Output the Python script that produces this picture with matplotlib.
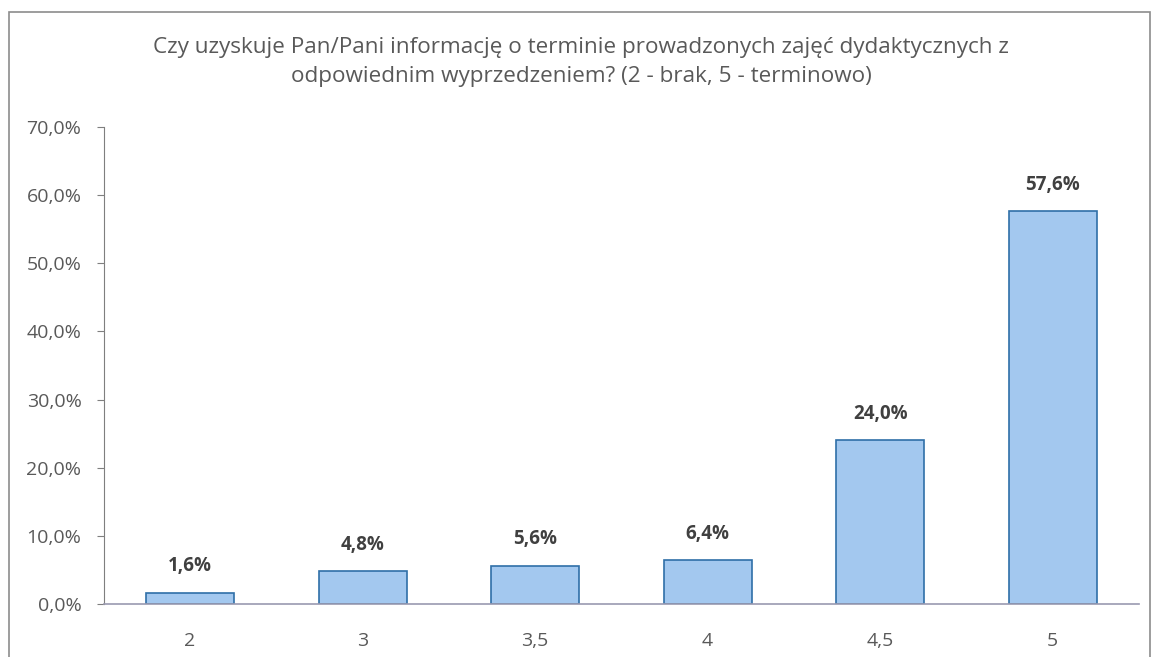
import matplotlib.pyplot as plt
from matplotlib.patches import Rectangle
from matplotlib.ticker import FuncFormatter, MultipleLocator

categories = ["2", "3", "3,5", "4", "4,5", "5"]
shares = [1.6, 4.8, 5.6, 6.4, 24.0, 57.6]
title = ("Czy uzyskuje Pan/Pani informację o terminie prowadzonych zajęć dydaktycznych z\n"
         "odpowiednim wyprzedzeniem? (2 - brak, 5 - terminowo)")

plt.rcParams["font.family"] = ["Open Sans", "DejaVu Sans"]

fig = plt.figure(figsize=(11.55, 6.57), dpi=100)
fig.patches.append(Rectangle((9 / 1155, -0.01), 1141 / 1155, 1 - 12 / 657 + 0.01,
                             transform=fig.transFigure, fill=False,
                             edgecolor="#8c8c8c", linewidth=1.2))

ax = fig.add_axes([0.0898, 0.0807, 0.8963, 0.726])
x = range(len(categories))
bars = ax.bar(x, shares, width=0.51, color="#a3c8ef", edgecolor="#2f6fa8", linewidth=1.2)

for rect, val in zip(bars, shares):
    ax.annotate(f"{val:.1f}%".replace(".", ","),
                (rect.get_x() + rect.get_width() / 2, rect.get_height()),
                xytext=(0, 12), textcoords="offset points", ha="center", va="bottom",
                fontsize=13.5, fontweight="bold", color="#404040")

ax.set_xlim(-0.5, len(categories) - 0.5)
ax.set_ylim(0, 70)
ax.yaxis.set_major_locator(MultipleLocator(10))
ax.yaxis.set_major_formatter(FuncFormatter(lambda v, p: f"{v:.1f}%".replace(".", ",")))
ax.set_xticks(list(x))
ax.set_xticklabels(categories)

for side in ["top", "right"]:
    ax.spines[side].set_visible(False)
ax.spines["left"].set_color("#7f7f7f")
ax.spines["bottom"].set_color("#9a9ab0")
ax.spines["bottom"].set_linewidth(1.2)
ax.tick_params(axis="y", colors="#7f7f7f", labelcolor="#595959", labelsize=14,
               length=5, pad=11)
ax.tick_params(axis="x", length=0, labelcolor="#595959", labelsize=14, pad=20)

fig.text(0.503, 0.905, title, ha="center", va="center", fontsize=16.2,
         color="#595959", linespacing=1.5)

fig.savefig("out.png", dpi=100)
